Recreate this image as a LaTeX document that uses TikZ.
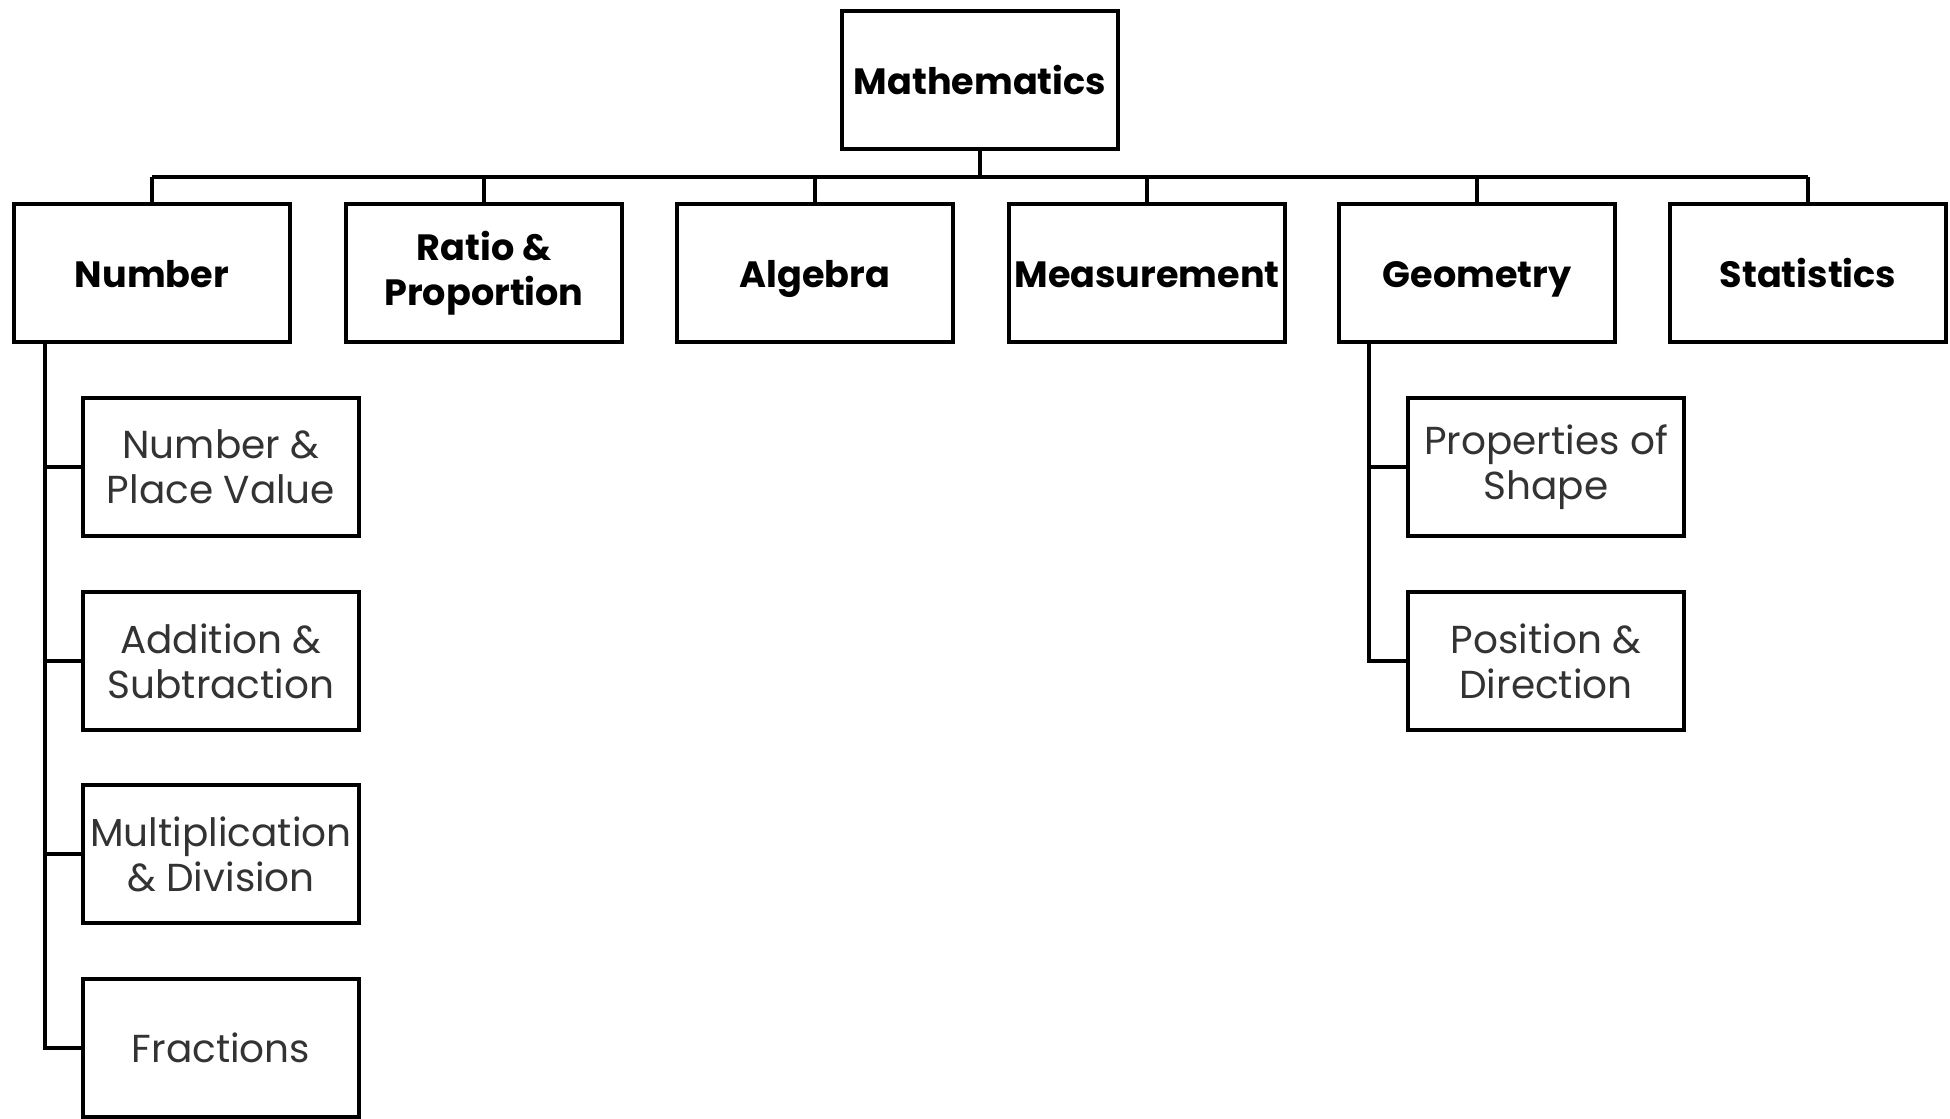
\documentclass[tikz,border=0pt]{standalone}
\usepackage{fontspec}
\setmainfont{Poppins}
\definecolor{subtext}{HTML}{333333}
\tikzset{
  topic/.style={draw,line width=2.2pt,minimum width=138pt,minimum height=69pt,
    align=center,font=\fontsize{18.3}{22.5}\selectfont\bfseries,inner sep=0pt},
  subtopic/.style={topic,font=\fontsize{19.5}{22.5}\selectfont,text=subtext},
  oneline/.style={text height=16pt,text depth=2pt},
  link/.style={line width=2pt}
}
\begin{document}
\begin{tikzpicture}[x=0.5pt,y=-0.5pt]
\useasboundingbox (0,0) rectangle (1950,1119);
\node[topic,oneline] (math) at (980,80) {Mathematics};
\node[topic,oneline] (number) at (152,273) {Number};
\node[topic] (ratio) at (484,273) {Ratio \&\\Proportion};
\node[topic,oneline] (algebra) at (815,273) {Algebra};
\node[topic,oneline] (measure) at (1147,273) {Measurement};
\node[topic,oneline] (geometry) at (1477,273) {Geometry};
\node[topic,oneline] (stats) at (1808,273) {Statistics};
\node[subtopic] (place) at (221,467) {Number \&\\Place Value};
\node[subtopic] (addsub) at (221,661) {Addition \&\\Subtraction};
\node[subtopic] (muldiv) at (221,854) {Multiplication\\\& Division};
\node[subtopic,oneline] (fractions) at (221,1048) {Fractions};
\node[subtopic] (shape) at (1546,467) {Properties of\\Shape};
\node[subtopic] (position) at (1546,661) {Position \&\\Direction};
\coordinate (bus) at (0,177);
\coordinate (nspine) at (45,0);
\coordinate (gspine) at (1369,0);
\draw[link] (math.south) -- (math.south |- bus);
\draw[link] (number.north |- bus) -- (stats.north |- bus);
\foreach \n in {number,ratio,algebra,measure,geometry,stats}
  \draw[link] (\n.north |- bus) -- (\n.north);
\draw[link] (nspine |- number.south) -- (nspine |- fractions.west) -- (fractions.west);
\foreach \n in {place,addsub,muldiv}
  \draw[link] (nspine |- \n.west) -- (\n.west);
\draw[link] (gspine |- geometry.south) -- (gspine |- position.west) -- (position.west);
\draw[link] (gspine |- shape.west) -- (shape.west);
\end{tikzpicture}
\end{document}
